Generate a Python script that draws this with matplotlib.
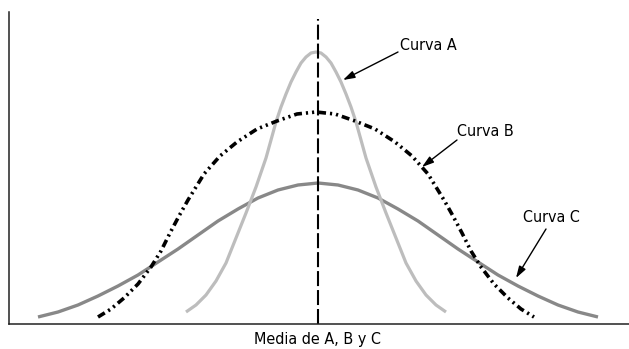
import matplotlib
matplotlib.use("Agg")
import matplotlib.pyplot as plt

# Valeurs (x en pixels, hauteur au-dessus de l'axe)
media = 318
curva_a_x = [186, 196, 206, 216, 226, 236, 246, 256, 266, 276, 281, 286, 291, 296, 301, 306, 311, 316,
             321, 326, 331, 336, 341, 346, 351, 356, 366, 376, 386, 396, 406, 416, 426, 436, 446]
curva_a_y = [12, 19, 29, 43, 61, 86, 111, 137, 166, 202, 217, 230, 242, 252, 261, 267, 271, 272,
             271, 267, 261, 252, 242, 230, 217, 202, 166, 137, 111, 86, 61, 43, 29, 19, 12]

curva_b_x = [98, 111, 124, 138, 151, 161, 170, 179, 188, 204, 220, 237, 257, 277, 297, 316,
             335, 355, 375, 395, 412, 428, 444, 453, 462, 471, 481, 494, 508, 521, 534]
curva_b_y = [7, 15, 26, 40, 57, 73, 91, 108, 124, 150, 168, 182, 195, 203, 210, 212,
             210, 203, 195, 182, 168, 150, 124, 108, 91, 73, 57, 40, 26, 15, 7]

curva_c_x = [38, 58, 78, 98, 118, 138, 158, 178, 198, 218, 238, 258, 278, 298, 318,
             338, 358, 378, 398, 418, 438, 458, 478, 498, 518, 538, 558, 578, 598]
curva_c_y = [7, 12, 19, 28, 38, 49, 62, 75, 89, 103, 115, 126, 134, 139, 141,
             139, 134, 126, 115, 103, 89, 75, 62, 49, 38, 28, 19, 12, 7]

etiquetas = ["Curva A", "Curva B", "Curva C"]
xlabel = "Media de A, B y C"

plt.rcParams['font.family'] = ['DejaVu Sans']
plt.rcParams['font.stretch'] = 'condensed'

fig = plt.figure(figsize=(6.29, 3.49), dpi=100)
ax = fig.add_axes([9 / 629, 25 / 349, 620 / 629, 312 / 349])

ax.plot([x - media for x in curva_c_x], curva_c_y, color="#888888", lw=2.4, solid_capstyle="butt")
ax.plot([x - media for x in curva_a_x], curva_a_y, color="#bdbdbd", lw=2.3, solid_capstyle="butt")
ax.plot([x - media for x in curva_b_x], curva_b_y, color="black", lw=2.6,
        linestyle=(0, (2.2, 1.1, 0.6, 1.1, 0.6, 1.1)))

# ligne de la moyenne
ax.plot([0, 0], [0, 305], color="black", lw=1.5, linestyle=(0, (7.2, 1.9)))

flecha = dict(arrowstyle="-|>,head_length=0.7,head_width=0.22", color="black", lw=1.0, shrinkA=0, shrinkB=0)
ax.annotate("", xy=(25, 244), xytext=(80, 272), arrowprops=flecha)
ax.annotate("", xy=(104, 157), xytext=(139, 184), arrowprops=flecha)
ax.annotate("", xy=(198, 46), xytext=(228, 95), arrowprops=flecha)
ax.text(110, 279, etiquetas[0], ha="center", va="center", fontsize=11.5)
ax.text(167, 193, etiquetas[1], ha="center", va="center", fontsize=11.5)
ax.text(233, 106, etiquetas[2], ha="center", va="center", fontsize=11.5)
ax.text(0, -8, xlabel, ha="center", va="top", fontsize=11.5, clip_on=False)

ax.set_xlim(9 - media, 629 - media)
ax.set_ylim(0, 312)
ax.set_xticks([])
ax.set_yticks([])
for s in ["top", "right"]:
    ax.spines[s].set_visible(False)
for s in ["left", "bottom"]:
    ax.spines[s].set_linewidth(1.1)
    ax.spines[s].set_color("#222222")

fig.savefig("out.png", dpi=100)
